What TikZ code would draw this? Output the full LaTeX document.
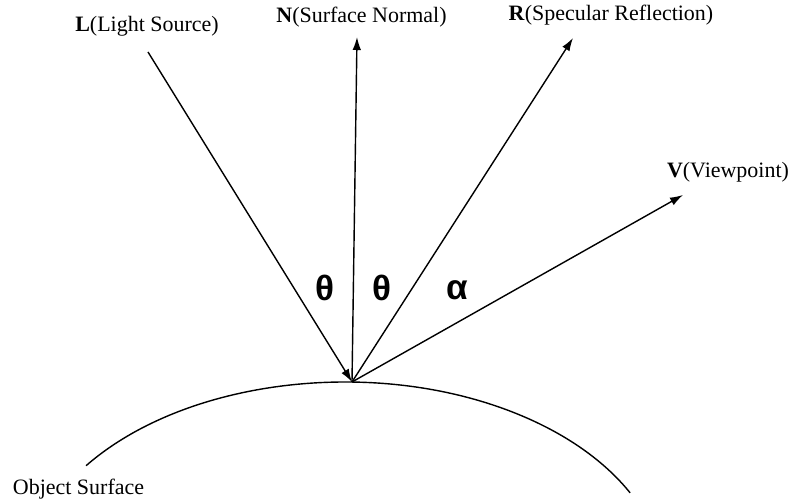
\documentclass[tikz,border=0pt]{standalone}
\usepackage{fontspec}
\setmainfont{Liberation Serif}
\newfontfamily\greekfont{Liberation Sans}
\usepackage{tikz}
\usetikzlibrary{arrows.meta}

\begin{document}
\begin{tikzpicture}[every node/.style={font=\fontsize{12.5}{15}\selectfont}, >={Latex[length=2.6mm,width=1.7mm]},
	vec/.style={->, line width=0.8pt},
	angle label/.style={font=\greekfont\bfseries\fontsize{20}{23}\selectfont}]
	\useasboundingbox (0,0) rectangle (15.98,10);
	% surface and hit point
	\draw[line width=0.8pt] (1.722,0.686) arc[start angle=144, end angle=27, x radius=6.4, y radius=4.06];
	\coordinate (P) at (7.04,2.36);
	\coordinate (Ltail) at (2.96,8.96);
	\coordinate (Ntip) at (7.14,9.26);
	\coordinate (Rtip) at (11.46,9.24);
	\coordinate (Vtip) at (13.66,6.10);
	\draw[vec] (Ltail) -- (P);
	\foreach \t in {Ntip, Rtip, Vtip} {
		\draw[vec] (P) -- (\t);
	}
	\node (L) at (2.94,9.48) {\textbf{L}(Light Source)};
	\node (N) at (7.23,9.66) {\textbf{N}(Surface Normal)};
	\node (R) at (12.22,9.70) {\textbf{R}(Specular Reflection)};
	\node (V) at (14.56,6.56) {\textbf{V}(Viewpoint)};
	\node (surf) at (1.57,0.22) {Object Surface};
	\node[angle label] (thetaL) at (6.5,4.24) {θ};
	\node[angle label] (thetaR) at (7.64,4.24) {θ};
	\node[angle label] (alpha) at (9.14,4.2) {α};
\end{tikzpicture}
\end{document}
